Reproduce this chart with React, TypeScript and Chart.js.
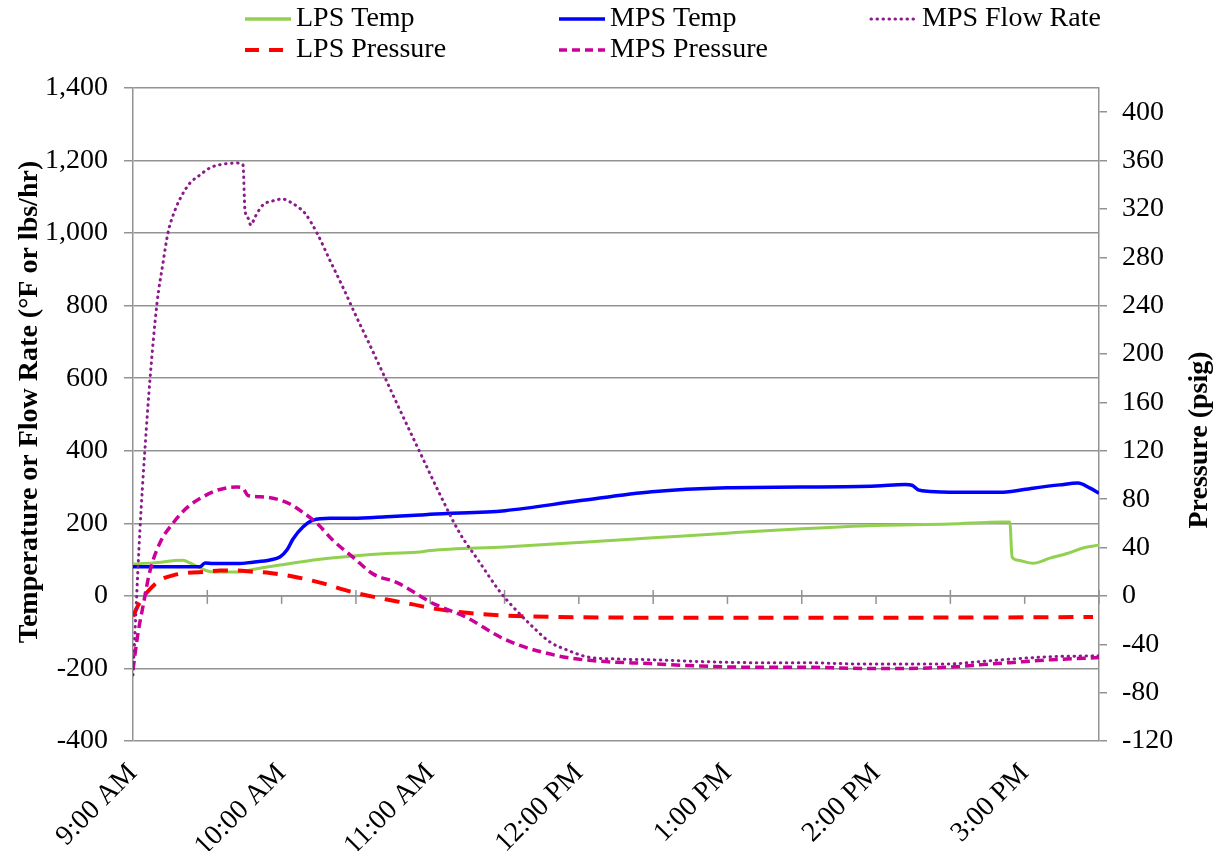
import React, { useEffect, useRef } from 'react';
import { Chart, registerables } from 'chart.js';

Chart.register(...registerables);

// X axis: minutes after 9:00 AM
const hourLabels = ['9:00 AM', '10:00 AM', '11:00 AM', '12:00 PM', '1:00 PM', '2:00 PM', '3:00 PM'];
const leftTickValues = [-400, -200, 0, 200, 400, 600, 800, 1000, 1200, 1400];
const rightTickValues = [-120, -80, -40, 0, 40, 80, 120, 160, 200, 240, 280, 320, 360, 400];

// LPS Temp (°F) — left axis
const lpsTempMin = [0, 8.1, 20.2, 23.0, 27.0, 32.3, 42.0, 48.4, 59.3, 75.5, 88.8, 102.5, 115.9, 119.9, 150, 180, 210, 239.8, 270, 300, 329.8, 351.2, 354, 354.9, 356.9, 363.3, 370.2, 377.1, 383.5, 390];
const lpsTempVal = [88, 91, 98, 91, 77, 66, 66, 73, 85, 101, 110, 117, 121, 125, 135, 147, 160, 173, 185, 194, 198, 204, 204, 107, 99, 90, 104, 117, 132, 140];

// MPS Temp (°F) — left axis
const mpsTempMin = [0, 27.0, 29.1, 32.3, 42.0, 48.4, 55.3, 59.3, 62.2, 64.6, 68.6, 72.7, 79.5, 88.8, 102.5, 115.9, 119.9, 150.2, 180, 209.5, 239.8, 270, 300, 311.7, 314.5, 317, 321.8, 329.8, 351.2, 363.3, 374.2, 381.5, 386.4, 390];
const mpsTempVal = [80, 80, 91, 89, 89, 93, 99, 107, 127, 157, 190, 209, 214, 214, 218, 223, 225, 235, 262, 287, 298, 300, 303, 307, 305, 292, 288, 286, 286, 297, 306, 311, 297, 283];

// MPS Flow Rate (lbs/hr) — left axis
const flowMin = [0, 2.8, 4.8, 6.9, 9.7, 12.1, 14.1, 17.0, 19.8, 23.0, 27.0, 31.1, 36.3, 42.0, 44.4, 45.2, 46.4, 47.6, 49.3, 52.5, 56.1, 60.2, 63.4, 66.6, 69.4, 74.3, 79.5, 84.8, 89.6, 94.9, 100.9, 107.8, 115.9, 123.9, 132.0, 139.3, 148.2, 153.4, 161.5, 168.3, 175.2, 183.3, 195.4, 208.7, 228.9, 249.1, 269.3, 296.3, 309.6, 328.6, 341.9, 355.3, 369.0, 390];
const flowVal = [-218, 181, 402, 600, 807, 917, 1000, 1064, 1105, 1138, 1160, 1180, 1190, 1193, 1188, 1064, 1042, 1022, 1045, 1078, 1088, 1094, 1086, 1072, 1055, 1000, 925, 850, 778, 702, 614, 512, 395, 280, 172, 99, 11, -30, -86, -127, -149, -168, -174, -176, -181, -184, -184, -188, -188, -188, -181, -174, -168, -165];

// LPS Pressure (psig) — right axis
const lpsPresMin = [0, 2.8, 5.7, 10.9, 16.1, 21.8, 29.9, 35.1, 42.0, 48.4, 55.3, 64.6, 75.5, 88.8, 102.5, 113.0, 119.9, 134.8, 148.2, 161.5, 208.7, 309.6, 387.6];
const lpsPresVal = [-17, -5, 3, 13, 17, 19, 20, 21, 21, 20, 19, 16, 11, 3, -3, -7, -10, -14, -16, -17, -18, -18, -17.5];

// MPS Pressure (psig) — right axis
const mpsPresMin = [0, 2.0, 4.0, 6.9, 10.9, 16.1, 21.8, 28.3, 35.1, 42.0, 44.4, 46.4, 51.3, 58.1, 63.4, 68.6, 74.3, 80.7, 88.8, 97.0, 106.6, 115.9, 119.9, 134.8, 148.2, 156.2, 164.3, 175.2, 188.5, 208.7, 228.9, 249.1, 269.3, 296.3, 309.6, 328.6, 341.9, 355.3, 369.0, 390];
const mpsPresVal = [-61, -31, -9, 21, 44, 60, 73, 82, 88, 90, 89, 83, 82, 80, 76, 69, 60, 46, 32, 18, 11, 0, -5, -18, -34, -41, -46, -51, -54, -56, -58, -59, -59, -60, -60, -59, -57, -55, -53, -51];

const GREEN = '#92D050';
const BLUE = '#0000FF';
const RED = '#FF0000';
const MAGENTA = '#CC0099';
const PURPLE = '#8B1A8B';
const GRID = '#939393';
const FONT = 'Liberation Serif';

const pts = (xs: number[], ys: number[]) => xs.map((x, i) => ({ x, y: ys[i] }));

const legendItems = [
  { label: 'LPS Temp', color: GREEN, dash: [] as number[], width: 3.5, cap: 'butt', col: 0, row: 0 },
  { label: 'MPS Temp', color: BLUE, dash: [] as number[], width: 3.5, cap: 'butt', col: 1, row: 0 },
  { label: 'MPS Flow Rate', color: PURPLE, dash: [0.5, 5.5], width: 3, cap: 'round', col: 2, row: 0 },
  { label: 'LPS Pressure', color: RED, dash: [14, 10], width: 4, cap: 'butt', col: 0, row: 1 },
  { label: 'MPS Pressure', color: MAGENTA, dash: [8, 5], width: 3.5, cap: 'butt', col: 1, row: 1 },
];

const legendPlugin = {
  id: 'gridLegend',
  afterDraw(chart: any) {
    const { ctx } = chart;
    const colX = [245, 559, 871];
    const rowY = [19, 50];
    ctx.save();
    legendItems.forEach((it) => {
      const x = colX[it.col];
      const y = rowY[it.row];
      ctx.strokeStyle = it.color;
      ctx.lineWidth = it.width;
      ctx.lineCap = it.cap;
      ctx.setLineDash(it.dash);
      ctx.beginPath();
      ctx.moveTo(x, y);
      ctx.lineTo(x + 46, y);
      ctx.stroke();
      ctx.setLineDash([]);
      ctx.fillStyle = '#000';
      ctx.font = `28px "${FONT}"`;
      ctx.textBaseline = 'middle';
      ctx.textAlign = 'left';
      ctx.fillText(it.label, x + 51, y);
    });
    // axis titles
    ctx.font = `bold 28px "${FONT}"`;
    ctx.textAlign = 'center';
    ctx.textBaseline = 'middle';
    ctx.translate(30, 402);
    ctx.rotate(-Math.PI / 2);
    ctx.fillText('Temperature or Flow Rate (°F or lbs/hr)', 0, 0);
    ctx.setTransform(1, 0, 0, 1, 0, 0);
    ctx.translate(1200, 440);
    ctx.rotate(-Math.PI / 2);
    ctx.fillText('Pressure (psig)', 0, 0);
    ctx.restore();
  },
};

const zeroAxisPlugin = {
  id: 'zeroAxis',
  beforeDatasetsDraw(chart: any) {
    const { ctx, chartArea, scales } = chart;
    const y0 = scales.y.getPixelForValue(0);
    ctx.save();
    ctx.strokeStyle = GRID;
    ctx.lineWidth = 1.5;
    ctx.beginPath();
    ctx.moveTo(chartArea.left, y0);
    ctx.lineTo(chartArea.right, y0);
    ctx.stroke();
    scales.x.ticks.forEach((t: any) => {
      if (t.value === 0) return;
      const x = scales.x.getPixelForValue(t.value);
      const up = t.value % 60 === 30 ? 6 : 0;
      ctx.beginPath();
      ctx.moveTo(x, y0 - up);
      ctx.lineTo(x, y0 + 8);
      ctx.stroke();
    });
    ctx.restore();
  },
};

export default function App() {
  const ref = useRef<HTMLCanvasElement | null>(null);

  useEffect(() => {
    if (!ref.current) return;
    Chart.defaults.font.family = FONT;
    const line = (label: string, xs: number[], ys: number[], color: string, axis: string, extra: any) => ({
      label,
      data: pts(xs, ys),
      borderColor: color,
      backgroundColor: color,
      yAxisID: axis,
      pointRadius: 0,
      fill: false,
      cubicInterpolationMode: 'monotone',
      ...extra,
    });
    const chart = new Chart(ref.current, {
      type: 'line',
      data: {
        datasets: [
          line('MPS Flow Rate', flowMin, flowVal, PURPLE, 'y', { borderWidth: 3, borderDash: [0.5, 5.5], borderCapStyle: 'round' }),
          line('MPS Pressure', mpsPresMin, mpsPresVal, MAGENTA, 'y1', { borderWidth: 3.5, borderDash: [9, 5] }),
          line('LPS Pressure', lpsPresMin, lpsPresVal, RED, 'y1', { borderWidth: 4, borderDash: [15, 10] }),
          line('MPS Temp', mpsTempMin, mpsTempVal, BLUE, 'y', { borderWidth: 3.5 }),
          line('LPS Temp', lpsTempMin, lpsTempVal, GREEN, 'y', { borderWidth: 3 }),
        ] as any,
      },
      options: {
        animation: false,
        responsive: true,
        maintainAspectRatio: false,
        layout: { padding: { top: 88, left: 0, right: 0, bottom: 0 } },
        plugins: { legend: { display: false }, tooltip: { enabled: false } },
        scales: {
          x: {
            type: 'linear',
            min: 0,
            max: 390,
            grid: { display: false },
            border: { display: false },
            ticks: {
              stepSize: 30,
              autoSkip: false,
              maxRotation: 45,
              minRotation: 45,
              padding: 8,
              color: '#000',
              font: { size: 28, family: FONT },
              callback: (v: any) => (Number(v) % 60 === 0 ? hourLabels[Number(v) / 60] : ''),
            },
            afterFit: (s: any) => { s.height = 110; },
          },
          y: {
            type: 'linear',
            position: 'left',
            min: -400,
            max: 1400,
            grid: { color: GRID, lineWidth: 1.5, tickLength: 9, drawTicks: true },
            border: { display: true, color: GRID, width: 1.5 },
            ticks: {
              padding: 16,
              color: '#000',
              font: { size: 28, family: FONT },
              callback: (v: any) => Number(v).toLocaleString('en-US'),
            },
            afterBuildTicks: (s: any) => { s.ticks = leftTickValues.map((value) => ({ value })); },
            afterFit: (s: any) => { s.width = 133; },
          },
          y1: {
            type: 'linear',
            position: 'right',
            min: -120,
            max: 420,
            grid: { drawOnChartArea: false, color: GRID, lineWidth: 1.5, tickLength: 8 },
            border: { display: true, color: GRID, width: 1.5 },
            ticks: {
              padding: 15,
              color: '#000',
              font: { size: 28, family: FONT },
            },
            afterBuildTicks: (s: any) => { s.ticks = rightTickValues.map((value) => ({ value })); },
            afterFit: (s: any) => { s.width = 126; },
          },
        },
      } as any,
      plugins: [zeroAxisPlugin, legendPlugin],
    });
    return () => chart.destroy();
  }, []);

  return (
    <div style={{ position: 'fixed', left: 0, top: 0, width: 1225, height: 851, background: '#fff' }}>
      <canvas ref={ref} />
    </div>
  );
}
